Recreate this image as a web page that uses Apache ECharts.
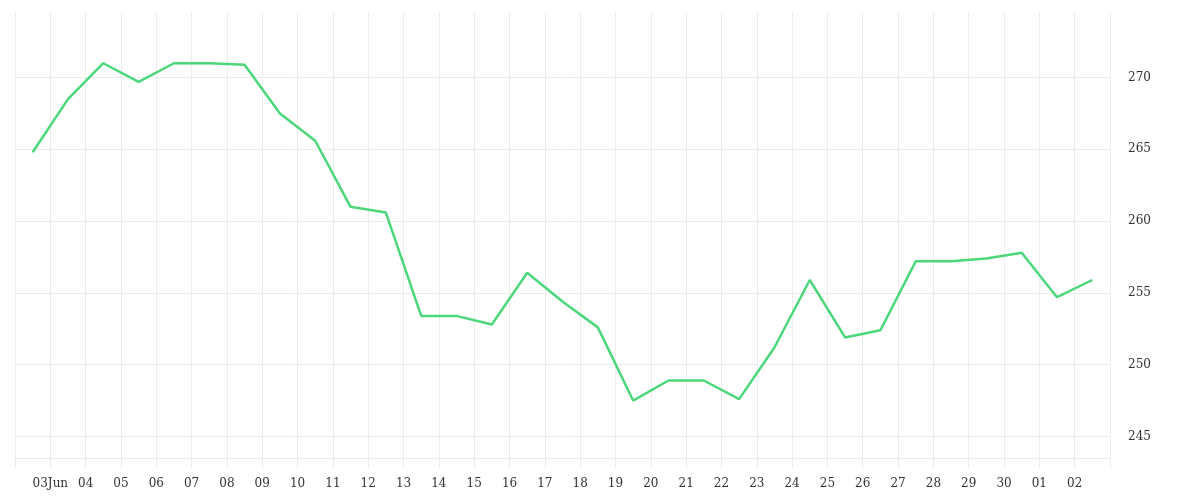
<!DOCTYPE html><html><head><meta charset="utf-8"><script src="https://cdn.jsdelivr.net/npm/echarts@6/dist/echarts.min.js"></script>
<style>html,body{margin:0;background:#fff}#c{width:1200px;height:500px}</style></head><body><div id="c"></div><script>
const dayLabels=['03Jun','04','05','06','07','08','09','10','11','12','13','14','15','16','17','18','19','20','21','22','23','24','25','26','27','28','29','30','01','02'];
const values=[264.8,268.5,271.0,269.7,271.0,271.0,270.9,267.5,265.6,261.0,260.6,253.4,253.4,252.8,256.4,254.4,252.6,247.5,248.9,248.9,247.6,251.2,255.9,251.9,252.4,257.2,257.2,257.4,257.8,254.7,255.9];
const yTicks=[245,250,255,260,265,270];
const data=values.map((v,i)=>[i-0.5,v]);
const font='DejaVu Serif';
const chart=echarts.init(document.getElementById('c'));
chart.setOption({
 animation:false,
 grid:{left:15,right:90,top:13,bottom:42},
 xAxis:{type:'value',min:-1,max:dayLabels.length,interval:1,
  axisLine:{show:true,lineStyle:{color:'#ececec'}},
  axisTick:{show:true,length:10,lineStyle:{color:'#ececec'}},
  splitLine:{show:true,lineStyle:{color:'#ececec'}},
  axisLabel:{color:'#333',fontFamily:font,fontSize:12,margin:20,formatter:v=>dayLabels[v]||''}},
 yAxis:{type:'value',position:'right',min:243.5,max:274.5,
  axisLine:{show:false},axisTick:{show:false,customValues:yTicks},
  splitLine:{show:true,lineStyle:{color:'#ececec'}},
  axisLabel:{color:'#333',fontFamily:font,fontSize:12,margin:18,customValues:yTicks}},
 series:[{type:'line',data:data,symbol:'none',lineStyle:{color:'#4cd87a',width:2.5}}]
});
</script></body></html>
